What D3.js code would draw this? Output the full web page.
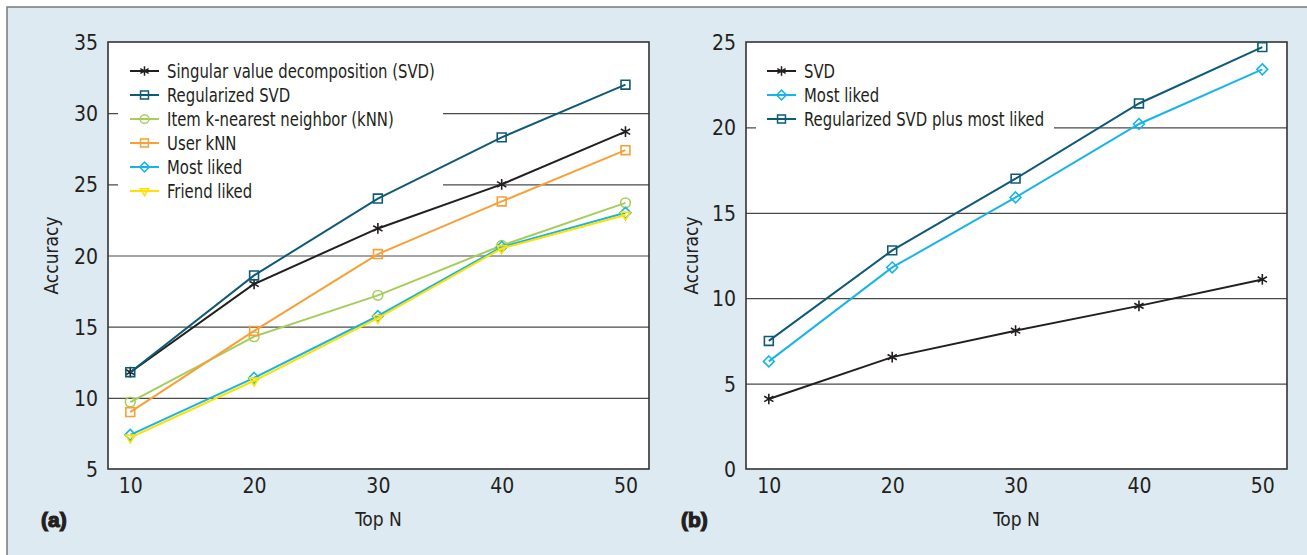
<!DOCTYPE html>
<html>
<head>
<meta charset="UTF-8" />
<script src="https://cdn.jsdelivr.net/npm/d3@7"></script>
<style>
  body { margin: 0; background: #fff; }
  svg text { font-family: "Liberation Sans Narrow", "DejaVu Sans Condensed", sans-serif; fill: #231f20; }
</style>
</head>
<body>
<div id="chart"></div>
<script>
// data
const topN = [10, 20, 30, 40, 50];

const svdA = [11.8, 18.0, 21.9, 25.0, 28.7];
const regSvdA = [11.8, 18.6, 24.0, 28.3, 32.0];
const itemKnnA = [9.7, 14.3, 17.2, 20.7, 23.7];
const userKnnA = [9.0, 14.7, 20.1, 23.8, 27.4];
const mostLikedA = [7.4, 11.4, 15.75, 20.6, 23.0];
const friendLikedA = [7.2, 11.2, 15.6, 20.5, 22.85];

const svdB = [4.1, 6.55, 8.1, 9.55, 11.1];
const mostLikedB = [6.3, 11.8, 15.9, 20.2, 23.4];
const regSvdMostB = [7.5, 12.8, 17.0, 21.4, 24.7];

const yTicksA = [5, 10, 15, 20, 25, 30, 35];
const yTicksB = [0, 5, 10, 15, 20, 25];

const namesA = ["Singular value decomposition (SVD)", "Regularized SVD", "Item k-nearest neighbor (kNN)", "User kNN", "Most liked", "Friend liked"];
const namesB = ["SVD", "Most liked", "Regularized SVD plus most liked"];

const W = 1307, H = 555;
const col = {
    black: "#231f20", teal: "#0f5a76", green: "#a5cd5c",
    orange: "#f6a037", cyan: "#19b4e6", yellow: "#ffe000"
};
const mk = {
    asterisk: {type: d3.symbolAsterisk, size: 80, rot: 0},
    square: {type: d3.symbolSquare2, size: 100, rot: 0},
    circle: {type: d3.symbolCircle, size: 75, rot: 0},
    diamond: {type: d3.symbolDiamond2, size: 75, rot: 0},
    tri: {type: d3.symbolTriangle2, size: 60, rot: 180}
};

const svg = d3.select("#chart").append("svg")
    .attr("width", W).attr("height", H);

// panel background
svg.append("rect").attr("x", 7).attr("y", 7)
    .attr("width", W + 10).attr("height", H + 10)
    .attr("fill", "#deeaf1").attr("stroke", "#7a7a7a").attr("stroke-width", 1.5);

function panel(o) {
    const x = d3.scaleLinear().domain(o.xDomain).range([o.left, o.right]);
    const y = d3.scaleLinear().domain(o.yDomain).range([o.bottom, o.top]);
    const g = svg.append("g");

    g.append("rect").attr("x", o.left).attr("y", o.top)
        .attr("width", o.right - o.left).attr("height", o.bottom - o.top)
        .attr("fill", "#fff");

    // grid lines
    g.append("g")
        .attr("transform", "translate(" + o.left + ",0)")
        .call(d3.axisLeft(y).tickValues(o.yTicks.slice(1, -1)).tickSize(-(o.right - o.left)).tickFormat(""))
        .call(s => s.select(".domain").remove())
        .call(s => s.selectAll("line").attr("stroke", "#4a4a4a").attr("stroke-width", 1.2));

    // legend box hides the grid lines behind it
    g.append("rect").attr("x", o.left + 10).attr("y", o.top + 8)
        .attr("width", o.legendRight - o.left - 10).attr("height", o.legendH)
        .attr("fill", "#fff");

    // y tick labels
    g.append("g")
        .attr("transform", "translate(" + o.left + ",0)")
        .call(d3.axisLeft(y).tickValues(o.yTicks).tickSize(0).tickPadding(10))
        .call(s => s.select(".domain").remove())
        .call(s => s.selectAll("text").attr("font-size", 21).attr("dy", "0.36em")
            .style("font-family", '"Liberation Sans Narrow", "DejaVu Sans Condensed", sans-serif'));

    // x tick labels
    g.append("g")
        .attr("transform", "translate(0," + o.bottom + ")")
        .call(d3.axisBottom(x).tickValues(topN).tickSize(0).tickPadding(9))
        .call(s => s.select(".domain").remove())
        .call(s => s.selectAll("text").attr("font-size", 21)
            .style("font-family", '"Liberation Sans Narrow", "DejaVu Sans Condensed", sans-serif'));

    // frame
    g.append("rect").attr("x", o.left).attr("y", o.top)
        .attr("width", o.right - o.left).attr("height", o.bottom - o.top)
        .attr("fill", "none").attr("stroke", "#333").attr("stroke-width", 1.6);

    const line = d3.line().x((d, i) => x(topN[i])).y(d => y(d));

    o.series.forEach((s, k) => {
        g.append("path").datum(s.values)
            .attr("d", line).attr("fill", "none")
            .attr("stroke", s.color).attr("stroke-width", 2);
        const m = mk[s.marker];
        g.selectAll(null).data(s.values).enter().append("path")
            .attr("d", d3.symbol(m.type, m.size))
            .attr("transform", (d, i) => "translate(" + x(topN[i]) + "," + y(d) + ") rotate(" + m.rot + ")")
            .attr("fill", "none").attr("stroke", s.color).attr("stroke-width", 1.6);
    });

    // legend
    const lg = g.append("g");
    o.series.forEach((s, k) => {
        const ly = o.legendY + k * o.legendStep;
        const m = mk[s.marker];
        lg.append("line").attr("x1", o.legendX).attr("x2", o.legendX + 29)
            .attr("y1", ly).attr("y2", ly).attr("stroke", s.color).attr("stroke-width", 2);
        lg.append("path").attr("d", d3.symbol(m.type, m.size * 0.8))
            .attr("transform", "translate(" + (o.legendX + 14.5) + "," + ly + ") rotate(" + m.rot + ")")
            .attr("fill", "none").attr("stroke", s.color).attr("stroke-width", 1.5);
        lg.append("text")
            .attr("transform", "translate(" + (o.legendX + 37) + "," + ly + ") scale(0.87,1)")
            .attr("dy", "0.36em")
            .attr("font-size", 19).text(s.name);
    });

    // axis titles
    g.append("text")
        .attr("transform", "translate(" + o.yTitleX + "," + ((o.top + o.bottom) / 2) + ") rotate(-90)")
        .attr("text-anchor", "middle").attr("font-size", 19).text("Accuracy");
    g.append("text").attr("x", (o.left + o.right) / 2).attr("y", 526)
        .attr("text-anchor", "middle").attr("font-size", 19).text("Top N");
    g.append("text").attr("x", o.tagX).attr("y", 527)
        .attr("font-size", 21).attr("font-weight", "bold")
        .style("font-family", '"Liberation Sans", Arial, sans-serif')
        .attr("stroke", "#231f20").attr("stroke-width", 1.2)
        .text(o.tag);
}

panel({
    left: 108, right: 649, top: 42, bottom: 469,
    xDomain: [8.2, 51.9], yDomain: [5, 35], yTicks: yTicksA,
    legendX: 130, legendY: 71, legendStep: 24, legendRight: 443, legendH: 152,
    yTitleX: 58, tagX: 41, tag: "(a)",
    series: [
        {name: namesA[0], values: svdA, color: col.black, marker: "asterisk"},
        {name: namesA[1], values: regSvdA, color: col.teal, marker: "square"},
        {name: namesA[2], values: itemKnnA, color: col.green, marker: "circle"},
        {name: namesA[3], values: userKnnA, color: col.orange, marker: "square"},
        {name: namesA[4], values: mostLikedA, color: col.cyan, marker: "diamond"},
        {name: namesA[5], values: friendLikedA, color: col.yellow, marker: "tri"}
    ]
});

panel({
    left: 746, right: 1287, top: 42, bottom: 469,
    xDomain: [8.15, 52.0], yDomain: [0, 25], yTicks: yTicksB,
    legendX: 767, legendY: 71, legendStep: 24, legendRight: 1054, legendH: 100,
    yTitleX: 698, tagX: 681, tag: "(b)",
    series: [
        {name: namesB[0], values: svdB, color: col.black, marker: "asterisk"},
        {name: namesB[1], values: mostLikedB, color: col.cyan, marker: "diamond"},
        {name: namesB[2], values: regSvdMostB, color: col.teal, marker: "square"}
    ]
});
</script>
</body>
</html>
